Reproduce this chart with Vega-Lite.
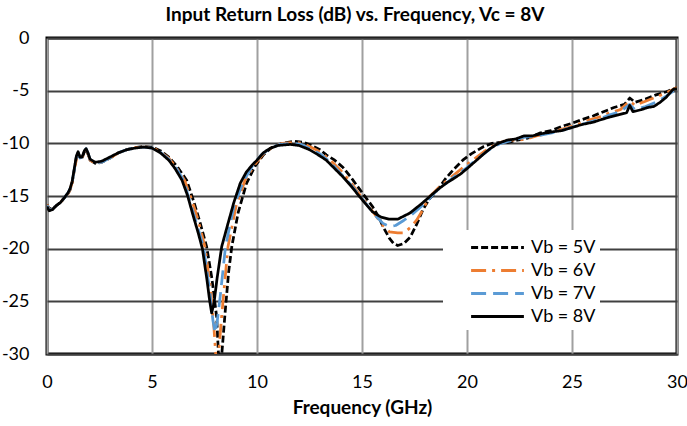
{
  "$schema": "https://vega.github.io/schema/vega-lite/v6.json",
  "width": 630,
  "height": 316,
  "autosize": {"type": "none"},
  "padding": {"left": 47, "top": 38, "right": 10, "bottom": 72},
  "background": "white",
  "title": {
    "text": "Input Return Loss (dB) vs. Frequency, Vc = 8V",
    "font": "Lato", "fontSize": 19, "fontWeight": "bold", "color": "black",
    "anchor": "middle", "offset": 4, "dx": -7
  },
  "data": {
    "values": [
      {"s":"Vb = 5V","f":0,"rl":-15.8},{"s":"Vb = 5V","f":0.1,"rl":-16.2},{"s":"Vb = 5V","f":0.25,"rl":-16.2},{"s":"Vb = 5V","f":0.45,"rl":-15.9},{"s":"Vb = 5V","f":0.65,"rl":-15.6},{"s":"Vb = 5V","f":0.85,"rl":-15.1},{"s":"Vb = 5V","f":1.0,"rl":-14.8},{"s":"Vb = 5V","f":1.1,"rl":-14.4},{"s":"Vb = 5V","f":1.2,"rl":-13.7},{"s":"Vb = 5V","f":1.3,"rl":-12.5},{"s":"Vb = 5V","f":1.4,"rl":-11.3},{"s":"Vb = 5V","f":1.48,"rl":-10.9},{"s":"Vb = 5V","f":1.57,"rl":-11.4},{"s":"Vb = 5V","f":1.67,"rl":-11.4},{"s":"Vb = 5V","f":1.78,"rl":-10.8},{"s":"Vb = 5V","f":1.86,"rl":-10.6},{"s":"Vb = 5V","f":1.95,"rl":-11.0},{"s":"Vb = 5V","f":2.05,"rl":-11.6},{"s":"Vb = 5V","f":2.3,"rl":-11.9},{"s":"Vb = 5V","f":2.6,"rl":-11.8},{"s":"Vb = 5V","f":3.0,"rl":-11.4},{"s":"Vb = 5V","f":3.4,"rl":-10.9},{"s":"Vb = 5V","f":3.8,"rl":-10.6},{"s":"Vb = 5V","f":4.2,"rl":-10.4},{"s":"Vb = 5V","f":4.6,"rl":-10.3},{"s":"Vb = 5V","f":5.0,"rl":-10.35},{"s":"Vb = 5V","f":5.4,"rl":-10.7},{"s":"Vb = 5V","f":5.8,"rl":-11.3},{"s":"Vb = 5V","f":6.2,"rl":-12.2},{"s":"Vb = 5V","f":6.65,"rl":-13.5},{"s":"Vb = 5V","f":7.0,"rl":-15.6},{"s":"Vb = 5V","f":7.3,"rl":-17.6},{"s":"Vb = 5V","f":7.6,"rl":-19.8},{"s":"Vb = 5V","f":7.85,"rl":-22.8},{"s":"Vb = 5V","f":8.08,"rl":-26.5},{"s":"Vb = 5V","f":8.18,"rl":-30.6},{"s":"Vb = 5V","f":8.3,"rl":-30.6},{"s":"Vb = 5V","f":8.48,"rl":-26.1},{"s":"Vb = 5V","f":8.65,"rl":-22.2},{"s":"Vb = 5V","f":8.8,"rl":-19.8},{"s":"Vb = 5V","f":9.1,"rl":-16.6},{"s":"Vb = 5V","f":9.5,"rl":-13.8},{"s":"Vb = 5V","f":9.9,"rl":-12.2},{"s":"Vb = 5V","f":10.3,"rl":-11.1},{"s":"Vb = 5V","f":10.7,"rl":-10.4},{"s":"Vb = 5V","f":11.2,"rl":-10.0},{"s":"Vb = 5V","f":11.8,"rl":-9.8},{"s":"Vb = 5V","f":12.2,"rl":-9.9},{"s":"Vb = 5V","f":12.6,"rl":-10.2},{"s":"Vb = 5V","f":13.0,"rl":-10.6},{"s":"Vb = 5V","f":13.3,"rl":-11.1},{"s":"Vb = 5V","f":13.7,"rl":-11.6},{"s":"Vb = 5V","f":14.1,"rl":-12.3},{"s":"Vb = 5V","f":14.5,"rl":-13.3},{"s":"Vb = 5V","f":14.9,"rl":-14.4},{"s":"Vb = 5V","f":15.2,"rl":-15.2},{"s":"Vb = 5V","f":15.5,"rl":-16.0},{"s":"Vb = 5V","f":15.8,"rl":-17.0},{"s":"Vb = 5V","f":16.0,"rl":-17.9},{"s":"Vb = 5V","f":16.3,"rl":-19.0},{"s":"Vb = 5V","f":16.5,"rl":-19.5},{"s":"Vb = 5V","f":16.7,"rl":-19.7},{"s":"Vb = 5V","f":17.0,"rl":-19.5},{"s":"Vb = 5V","f":17.3,"rl":-18.9},{"s":"Vb = 5V","f":17.6,"rl":-17.7},{"s":"Vb = 5V","f":17.9,"rl":-16.3},{"s":"Vb = 5V","f":18.2,"rl":-15.3},{"s":"Vb = 5V","f":18.6,"rl":-14.4},{"s":"Vb = 5V","f":19.0,"rl":-13.3},{"s":"Vb = 5V","f":19.4,"rl":-12.4},{"s":"Vb = 5V","f":19.8,"rl":-11.6},{"s":"Vb = 5V","f":20.2,"rl":-11.0},{"s":"Vb = 5V","f":20.8,"rl":-10.3},{"s":"Vb = 5V","f":21.2,"rl":-10.0},{"s":"Vb = 5V","f":21.6,"rl":-9.9},{"s":"Vb = 5V","f":22.0,"rl":-9.9},{"s":"Vb = 5V","f":22.4,"rl":-9.7},{"s":"Vb = 5V","f":22.9,"rl":-9.5},{"s":"Vb = 5V","f":23.5,"rl":-9.0},{"s":"Vb = 5V","f":24.0,"rl":-8.8},{"s":"Vb = 5V","f":24.5,"rl":-8.4},{"s":"Vb = 5V","f":25.0,"rl":-8.1},{"s":"Vb = 5V","f":25.4,"rl":-7.8},{"s":"Vb = 5V","f":26.0,"rl":-7.4},{"s":"Vb = 5V","f":26.5,"rl":-7.0},{"s":"Vb = 5V","f":27.0,"rl":-6.6},{"s":"Vb = 5V","f":27.5,"rl":-6.3},{"s":"Vb = 5V","f":27.75,"rl":-5.7},{"s":"Vb = 5V","f":28.0,"rl":-6.1},{"s":"Vb = 5V","f":28.5,"rl":-5.8},{"s":"Vb = 5V","f":29.0,"rl":-5.4},{"s":"Vb = 5V","f":29.5,"rl":-5.1},{"s":"Vb = 5V","f":30,"rl":-4.7},
      {"s":"Vb = 6V","f":0,"rl":-15.8},{"s":"Vb = 6V","f":0.1,"rl":-16.3},{"s":"Vb = 6V","f":0.25,"rl":-16.3},{"s":"Vb = 6V","f":0.45,"rl":-15.9},{"s":"Vb = 6V","f":0.65,"rl":-15.6},{"s":"Vb = 6V","f":0.85,"rl":-15.1},{"s":"Vb = 6V","f":1.0,"rl":-14.8},{"s":"Vb = 6V","f":1.1,"rl":-14.4},{"s":"Vb = 6V","f":1.2,"rl":-13.7},{"s":"Vb = 6V","f":1.3,"rl":-12.6},{"s":"Vb = 6V","f":1.4,"rl":-11.5},{"s":"Vb = 6V","f":1.48,"rl":-11.0},{"s":"Vb = 6V","f":1.57,"rl":-11.5},{"s":"Vb = 6V","f":1.67,"rl":-11.4},{"s":"Vb = 6V","f":1.78,"rl":-10.8},{"s":"Vb = 6V","f":1.86,"rl":-10.6},{"s":"Vb = 6V","f":1.95,"rl":-11.0},{"s":"Vb = 6V","f":2.05,"rl":-11.6},{"s":"Vb = 6V","f":2.3,"rl":-11.9},{"s":"Vb = 6V","f":2.6,"rl":-11.8},{"s":"Vb = 6V","f":3.0,"rl":-11.4},{"s":"Vb = 6V","f":3.4,"rl":-10.9},{"s":"Vb = 6V","f":3.8,"rl":-10.6},{"s":"Vb = 6V","f":4.2,"rl":-10.4},{"s":"Vb = 6V","f":4.6,"rl":-10.35},{"s":"Vb = 6V","f":5.0,"rl":-10.4},{"s":"Vb = 6V","f":5.4,"rl":-10.8},{"s":"Vb = 6V","f":5.8,"rl":-11.4},{"s":"Vb = 6V","f":6.2,"rl":-12.4},{"s":"Vb = 6V","f":6.55,"rl":-13.5},{"s":"Vb = 6V","f":6.9,"rl":-15.4},{"s":"Vb = 6V","f":7.2,"rl":-17.3},{"s":"Vb = 6V","f":7.52,"rl":-19.8},{"s":"Vb = 6V","f":7.8,"rl":-24.0},{"s":"Vb = 6V","f":7.95,"rl":-27.5},{"s":"Vb = 6V","f":8.05,"rl":-30.5},{"s":"Vb = 6V","f":8.15,"rl":-30.5},{"s":"Vb = 6V","f":8.33,"rl":-26.1},{"s":"Vb = 6V","f":8.62,"rl":-19.8},{"s":"Vb = 6V","f":9.0,"rl":-16.0},{"s":"Vb = 6V","f":9.43,"rl":-13.5},{"s":"Vb = 6V","f":9.9,"rl":-12.0},{"s":"Vb = 6V","f":10.3,"rl":-11.0},{"s":"Vb = 6V","f":10.7,"rl":-10.4},{"s":"Vb = 6V","f":11.2,"rl":-10.0},{"s":"Vb = 6V","f":11.8,"rl":-9.9},{"s":"Vb = 6V","f":12.2,"rl":-10.0},{"s":"Vb = 6V","f":12.6,"rl":-10.4},{"s":"Vb = 6V","f":13.0,"rl":-10.8},{"s":"Vb = 6V","f":13.5,"rl":-11.6},{"s":"Vb = 6V","f":14.0,"rl":-12.6},{"s":"Vb = 6V","f":14.5,"rl":-13.8},{"s":"Vb = 6V","f":14.9,"rl":-14.9},{"s":"Vb = 6V","f":15.3,"rl":-15.9},{"s":"Vb = 6V","f":15.7,"rl":-17.0},{"s":"Vb = 6V","f":16.0,"rl":-17.8},{"s":"Vb = 6V","f":16.3,"rl":-18.4},{"s":"Vb = 6V","f":16.7,"rl":-18.5},{"s":"Vb = 6V","f":17.0,"rl":-18.5},{"s":"Vb = 6V","f":17.3,"rl":-18.0},{"s":"Vb = 6V","f":17.6,"rl":-17.3},{"s":"Vb = 6V","f":17.9,"rl":-16.3},{"s":"Vb = 6V","f":18.2,"rl":-15.1},{"s":"Vb = 6V","f":18.6,"rl":-14.3},{"s":"Vb = 6V","f":19.0,"rl":-13.6},{"s":"Vb = 6V","f":19.5,"rl":-12.8},{"s":"Vb = 6V","f":20.0,"rl":-12.0},{"s":"Vb = 6V","f":20.4,"rl":-11.4},{"s":"Vb = 6V","f":20.8,"rl":-10.8},{"s":"Vb = 6V","f":21.2,"rl":-10.3},{"s":"Vb = 6V","f":21.6,"rl":-9.9},{"s":"Vb = 6V","f":22.0,"rl":-9.7},{"s":"Vb = 6V","f":22.4,"rl":-9.7},{"s":"Vb = 6V","f":22.8,"rl":-9.6},{"s":"Vb = 6V","f":23.3,"rl":-9.3},{"s":"Vb = 6V","f":23.8,"rl":-9.1},{"s":"Vb = 6V","f":24.3,"rl":-8.8},{"s":"Vb = 6V","f":24.8,"rl":-8.5},{"s":"Vb = 6V","f":25.3,"rl":-8.2},{"s":"Vb = 6V","f":25.8,"rl":-7.8},{"s":"Vb = 6V","f":26.3,"rl":-7.5},{"s":"Vb = 6V","f":26.8,"rl":-7.1},{"s":"Vb = 6V","f":27.3,"rl":-6.8},{"s":"Vb = 6V","f":27.75,"rl":-6.0},{"s":"Vb = 6V","f":28.0,"rl":-6.4},{"s":"Vb = 6V","f":28.5,"rl":-6.0},{"s":"Vb = 6V","f":29.0,"rl":-5.6},{"s":"Vb = 6V","f":29.5,"rl":-5.2},{"s":"Vb = 6V","f":30,"rl":-4.7},
      {"s":"Vb = 7V","f":0,"rl":-15.9},{"s":"Vb = 7V","f":0.1,"rl":-16.3},{"s":"Vb = 7V","f":0.25,"rl":-16.3},{"s":"Vb = 7V","f":0.45,"rl":-15.9},{"s":"Vb = 7V","f":0.65,"rl":-15.6},{"s":"Vb = 7V","f":0.85,"rl":-15.1},{"s":"Vb = 7V","f":1.0,"rl":-14.7},{"s":"Vb = 7V","f":1.1,"rl":-14.3},{"s":"Vb = 7V","f":1.2,"rl":-13.6},{"s":"Vb = 7V","f":1.3,"rl":-12.5},{"s":"Vb = 7V","f":1.4,"rl":-11.3},{"s":"Vb = 7V","f":1.48,"rl":-10.9},{"s":"Vb = 7V","f":1.57,"rl":-11.4},{"s":"Vb = 7V","f":1.67,"rl":-11.3},{"s":"Vb = 7V","f":1.78,"rl":-10.7},{"s":"Vb = 7V","f":1.86,"rl":-10.5},{"s":"Vb = 7V","f":1.95,"rl":-10.9},{"s":"Vb = 7V","f":2.05,"rl":-11.5},{"s":"Vb = 7V","f":2.3,"rl":-11.8},{"s":"Vb = 7V","f":2.6,"rl":-11.8},{"s":"Vb = 7V","f":3.0,"rl":-11.4},{"s":"Vb = 7V","f":3.4,"rl":-10.9},{"s":"Vb = 7V","f":3.8,"rl":-10.6},{"s":"Vb = 7V","f":4.2,"rl":-10.45},{"s":"Vb = 7V","f":4.6,"rl":-10.35},{"s":"Vb = 7V","f":5.0,"rl":-10.45},{"s":"Vb = 7V","f":5.4,"rl":-10.85},{"s":"Vb = 7V","f":5.8,"rl":-11.5},{"s":"Vb = 7V","f":6.2,"rl":-12.5},{"s":"Vb = 7V","f":6.5,"rl":-13.5},{"s":"Vb = 7V","f":7.0,"rl":-16.8},{"s":"Vb = 7V","f":7.45,"rl":-19.8},{"s":"Vb = 7V","f":7.75,"rl":-24.0},{"s":"Vb = 7V","f":7.9,"rl":-26.8},{"s":"Vb = 7V","f":8.0,"rl":-28.0},{"s":"Vb = 7V","f":8.1,"rl":-27.0},{"s":"Vb = 7V","f":8.25,"rl":-24.5},{"s":"Vb = 7V","f":8.5,"rl":-19.8},{"s":"Vb = 7V","f":8.9,"rl":-16.0},{"s":"Vb = 7V","f":9.35,"rl":-13.6},{"s":"Vb = 7V","f":9.8,"rl":-12.1},{"s":"Vb = 7V","f":10.2,"rl":-11.1},{"s":"Vb = 7V","f":10.6,"rl":-10.5},{"s":"Vb = 7V","f":11.1,"rl":-10.1},{"s":"Vb = 7V","f":11.7,"rl":-10.0},{"s":"Vb = 7V","f":12.1,"rl":-10.1},{"s":"Vb = 7V","f":12.5,"rl":-10.5},{"s":"Vb = 7V","f":13.0,"rl":-11.0},{"s":"Vb = 7V","f":13.5,"rl":-11.8},{"s":"Vb = 7V","f":14.0,"rl":-12.9},{"s":"Vb = 7V","f":14.5,"rl":-14.0},{"s":"Vb = 7V","f":14.9,"rl":-15.0},{"s":"Vb = 7V","f":15.3,"rl":-16.0},{"s":"Vb = 7V","f":15.7,"rl":-17.0},{"s":"Vb = 7V","f":16.0,"rl":-17.6},{"s":"Vb = 7V","f":16.3,"rl":-17.9},{"s":"Vb = 7V","f":16.6,"rl":-17.8},{"s":"Vb = 7V","f":17.0,"rl":-17.3},{"s":"Vb = 7V","f":17.3,"rl":-16.9},{"s":"Vb = 7V","f":17.7,"rl":-16.2},{"s":"Vb = 7V","f":18.1,"rl":-15.5},{"s":"Vb = 7V","f":18.5,"rl":-14.6},{"s":"Vb = 7V","f":19.0,"rl":-13.8},{"s":"Vb = 7V","f":19.5,"rl":-13.0},{"s":"Vb = 7V","f":20.0,"rl":-12.3},{"s":"Vb = 7V","f":20.4,"rl":-11.6},{"s":"Vb = 7V","f":20.8,"rl":-11.0},{"s":"Vb = 7V","f":21.2,"rl":-10.4},{"s":"Vb = 7V","f":21.6,"rl":-10.0},{"s":"Vb = 7V","f":22.0,"rl":-9.8},{"s":"Vb = 7V","f":22.4,"rl":-9.6},{"s":"Vb = 7V","f":22.8,"rl":-9.4},{"s":"Vb = 7V","f":23.3,"rl":-9.3},{"s":"Vb = 7V","f":23.8,"rl":-9.1},{"s":"Vb = 7V","f":24.3,"rl":-8.9},{"s":"Vb = 7V","f":24.8,"rl":-8.6},{"s":"Vb = 7V","f":25.3,"rl":-8.3},{"s":"Vb = 7V","f":25.8,"rl":-8.0},{"s":"Vb = 7V","f":26.3,"rl":-7.7},{"s":"Vb = 7V","f":26.8,"rl":-7.3},{"s":"Vb = 7V","f":27.3,"rl":-7.0},{"s":"Vb = 7V","f":27.75,"rl":-6.3},{"s":"Vb = 7V","f":28.0,"rl":-6.8},{"s":"Vb = 7V","f":28.5,"rl":-6.5},{"s":"Vb = 7V","f":29.0,"rl":-6.1},{"s":"Vb = 7V","f":29.5,"rl":-5.5},{"s":"Vb = 7V","f":30,"rl":-4.8},
      {"s":"Vb = 8V","f":0,"rl":-16.0},{"s":"Vb = 8V","f":0.1,"rl":-16.4},{"s":"Vb = 8V","f":0.25,"rl":-16.3},{"s":"Vb = 8V","f":0.45,"rl":-15.9},{"s":"Vb = 8V","f":0.65,"rl":-15.6},{"s":"Vb = 8V","f":0.85,"rl":-15.1},{"s":"Vb = 8V","f":1.0,"rl":-14.7},{"s":"Vb = 8V","f":1.1,"rl":-14.3},{"s":"Vb = 8V","f":1.2,"rl":-13.6},{"s":"Vb = 8V","f":1.3,"rl":-12.4},{"s":"Vb = 8V","f":1.4,"rl":-11.2},{"s":"Vb = 8V","f":1.48,"rl":-10.8},{"s":"Vb = 8V","f":1.57,"rl":-11.3},{"s":"Vb = 8V","f":1.67,"rl":-11.3},{"s":"Vb = 8V","f":1.78,"rl":-10.7},{"s":"Vb = 8V","f":1.86,"rl":-10.5},{"s":"Vb = 8V","f":1.95,"rl":-10.9},{"s":"Vb = 8V","f":2.05,"rl":-11.5},{"s":"Vb = 8V","f":2.3,"rl":-11.8},{"s":"Vb = 8V","f":2.6,"rl":-11.7},{"s":"Vb = 8V","f":3.0,"rl":-11.3},{"s":"Vb = 8V","f":3.4,"rl":-10.9},{"s":"Vb = 8V","f":3.8,"rl":-10.6},{"s":"Vb = 8V","f":4.2,"rl":-10.45},{"s":"Vb = 8V","f":4.6,"rl":-10.35},{"s":"Vb = 8V","f":5.0,"rl":-10.45},{"s":"Vb = 8V","f":5.4,"rl":-10.9},{"s":"Vb = 8V","f":5.8,"rl":-11.6},{"s":"Vb = 8V","f":6.1,"rl":-12.4},{"s":"Vb = 8V","f":6.43,"rl":-13.5},{"s":"Vb = 8V","f":6.7,"rl":-15.0},{"s":"Vb = 8V","f":6.95,"rl":-16.8},{"s":"Vb = 8V","f":7.2,"rl":-18.5},{"s":"Vb = 8V","f":7.4,"rl":-20.0},{"s":"Vb = 8V","f":7.62,"rl":-23.0},{"s":"Vb = 8V","f":7.75,"rl":-25.0},{"s":"Vb = 8V","f":7.84,"rl":-26.1},{"s":"Vb = 8V","f":7.95,"rl":-25.2},{"s":"Vb = 8V","f":8.1,"rl":-22.8},{"s":"Vb = 8V","f":8.32,"rl":-19.8},{"s":"Vb = 8V","f":8.62,"rl":-17.6},{"s":"Vb = 8V","f":8.9,"rl":-15.6},{"s":"Vb = 8V","f":9.2,"rl":-13.8},{"s":"Vb = 8V","f":9.5,"rl":-12.7},{"s":"Vb = 8V","f":9.8,"rl":-12.0},{"s":"Vb = 8V","f":10.0,"rl":-11.6},{"s":"Vb = 8V","f":10.3,"rl":-10.9},{"s":"Vb = 8V","f":10.6,"rl":-10.5},{"s":"Vb = 8V","f":11.0,"rl":-10.2},{"s":"Vb = 8V","f":11.6,"rl":-10.1},{"s":"Vb = 8V","f":12.0,"rl":-10.2},{"s":"Vb = 8V","f":12.5,"rl":-10.6},{"s":"Vb = 8V","f":13.0,"rl":-11.2},{"s":"Vb = 8V","f":13.3,"rl":-11.6},{"s":"Vb = 8V","f":13.7,"rl":-12.4},{"s":"Vb = 8V","f":14.1,"rl":-13.2},{"s":"Vb = 8V","f":14.5,"rl":-14.1},{"s":"Vb = 8V","f":14.9,"rl":-15.1},{"s":"Vb = 8V","f":15.2,"rl":-15.8},{"s":"Vb = 8V","f":15.5,"rl":-16.5},{"s":"Vb = 8V","f":15.9,"rl":-17.0},{"s":"Vb = 8V","f":16.3,"rl":-17.2},{"s":"Vb = 8V","f":16.7,"rl":-17.2},{"s":"Vb = 8V","f":17.0,"rl":-16.9},{"s":"Vb = 8V","f":17.3,"rl":-16.6},{"s":"Vb = 8V","f":17.6,"rl":-16.1},{"s":"Vb = 8V","f":17.8,"rl":-15.8},{"s":"Vb = 8V","f":18.2,"rl":-15.1},{"s":"Vb = 8V","f":18.6,"rl":-14.4},{"s":"Vb = 8V","f":19.0,"rl":-13.8},{"s":"Vb = 8V","f":19.4,"rl":-13.3},{"s":"Vb = 8V","f":19.7,"rl":-12.9},{"s":"Vb = 8V","f":20.0,"rl":-12.4},{"s":"Vb = 8V","f":20.4,"rl":-11.7},{"s":"Vb = 8V","f":20.8,"rl":-11.0},{"s":"Vb = 8V","f":21.1,"rl":-10.5},{"s":"Vb = 8V","f":21.5,"rl":-10.0},{"s":"Vb = 8V","f":21.9,"rl":-9.7},{"s":"Vb = 8V","f":22.3,"rl":-9.6},{"s":"Vb = 8V","f":22.7,"rl":-9.3},{"s":"Vb = 8V","f":23.1,"rl":-9.3},{"s":"Vb = 8V","f":23.5,"rl":-9.1},{"s":"Vb = 8V","f":24.1,"rl":-8.9},{"s":"Vb = 8V","f":24.5,"rl":-8.8},{"s":"Vb = 8V","f":25.0,"rl":-8.5},{"s":"Vb = 8V","f":25.5,"rl":-8.2},{"s":"Vb = 8V","f":26.0,"rl":-8.0},{"s":"Vb = 8V","f":26.3,"rl":-7.8},{"s":"Vb = 8V","f":26.8,"rl":-7.5},{"s":"Vb = 8V","f":27.2,"rl":-7.3},{"s":"Vb = 8V","f":27.6,"rl":-7.1},{"s":"Vb = 8V","f":27.75,"rl":-6.4},{"s":"Vb = 8V","f":27.9,"rl":-7.0},{"s":"Vb = 8V","f":28.3,"rl":-6.8},{"s":"Vb = 8V","f":28.6,"rl":-6.6},{"s":"Vb = 8V","f":28.9,"rl":-6.5},{"s":"Vb = 8V","f":29.2,"rl":-6.1},{"s":"Vb = 8V","f":29.5,"rl":-5.6},{"s":"Vb = 8V","f":29.8,"rl":-4.9},{"s":"Vb = 8V","f":30,"rl":-4.8}
    ]
  },
  "mark": {"type": "line", "clip": true, "strokeWidth": 2.75, "strokeJoin": "round"},
  "encoding": {
    "x": {
      "field": "f", "type": "quantitative",
      "scale": {"domain": [0, 30], "nice": false},
      "axis": {
        "values": [0, 5, 10, 15, 20, 25, 30], "title": "Frequency (GHz)",
        "gridColor": "#a0a0a0", "gridWidth": 2, "labelFlush": false
      }
    },
    "y": {
      "field": "rl", "type": "quantitative",
      "scale": {"domain": [-30, 0], "nice": false},
      "axis": {
        "values": [-30, -25, -20, -15, -10, -5, 0], "title": null,
        "gridColor": "#404040", "gridWidth": 2, "labelFlush": false,
        "labelExpr": "'' + datum.value"
      }
    },
    "color": {
      "field": "s", "type": "nominal", "title": null,
      "scale": {
        "domain": ["Vb = 5V", "Vb = 6V", "Vb = 7V", "Vb = 8V"],
        "range": ["#000000", "#ED7D31", "#5B9BD5", "#000000"]
      }
    },
    "strokeDash": {
      "field": "s", "type": "nominal", "title": null,
      "scale": {
        "domain": ["Vb = 5V", "Vb = 6V", "Vb = 7V", "Vb = 8V"],
        "range": [[7, 3], [15, 6, 3, 6], [15, 7], [1, 0]]
      }
    }
  },
  "config": {
    "view": {"stroke": "black", "strokeWidth": 3},
    "axis": {
      "domain": false, "ticks": false,
      "labelFont": "Lato", "labelFontSize": 18, "labelColor": "black",
      "titleFont": "Lato", "titleFontSize": 19, "titleFontWeight": "bold", "titleColor": "black"
    },
    "axisX": {"labelPadding": 19, "titlePadding": 7},
    "axisY": {"labelPadding": 18},
    "legend": {
      "orient": "none", "legendX": 396, "legendY": 192,
      "fillColor": "white", "padding": 4,
      "symbolType": "M-2.2,0H2.2", "symbolSize": 576, "symbolStrokeWidth": 3,
      "symbolFillColor": "transparent",
      "symbolOffset": 37, "labelOffset": 20,
      "labelFont": "Lato", "labelFontSize": 18, "labelColor": "black",
      "rowPadding": 0
    }
  }
}
